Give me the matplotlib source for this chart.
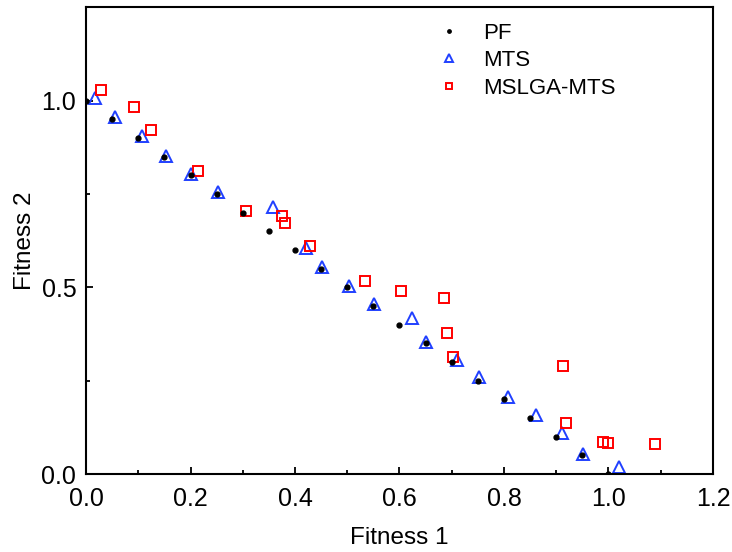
import matplotlib
matplotlib.use('Agg')
import matplotlib.pyplot as plt
from matplotlib.ticker import MultipleLocator

plt.rcParams['font.family'] = ['Liberation Sans', 'DejaVu Sans']

# Pareto front
pf_x = [0.0, 0.05, 0.1, 0.15, 0.2, 0.25, 0.3, 0.35, 0.4, 0.45, 0.5,
        0.55, 0.6, 0.65, 0.7, 0.75, 0.8, 0.85, 0.9, 0.95, 1.0]
pf_y = [1.0, 0.95, 0.9, 0.85, 0.8, 0.75, 0.7, 0.65, 0.6, 0.55, 0.5,
        0.45, 0.4, 0.35, 0.3, 0.25, 0.2, 0.15, 0.1, 0.05, 0.0]

# MTS
mts_x = [0.017, 0.056, 0.107, 0.153, 0.200, 0.253, 0.357, 0.421, 0.452, 0.503,
         0.552, 0.624, 0.650, 0.711, 0.753, 0.808, 0.862, 0.912, 0.951, 1.020]
mts_y = [1.008, 0.955, 0.906, 0.851, 0.802, 0.754, 0.715, 0.605, 0.554, 0.503,
         0.454, 0.417, 0.354, 0.305, 0.259, 0.205, 0.158, 0.109, 0.053, 0.020]

# MSLGA-MTS
ms_x = [0.029, 0.091, 0.124, 0.214, 0.306, 0.375, 0.381, 0.429, 0.534,
        0.603, 0.685, 0.690, 0.702, 0.913, 0.919, 0.989, 1.000, 1.089]
ms_y = [1.029, 0.982, 0.921, 0.810, 0.703, 0.692, 0.673, 0.610, 0.518,
        0.490, 0.472, 0.378, 0.314, 0.288, 0.136, 0.086, 0.084, 0.079]

fig = plt.figure(figsize=(7.32, 5.52), dpi=100)
ax = fig.add_axes([0.1175, 0.1413, 0.8565, 0.8457])

ax.plot(pf_x, pf_y, 'o', color='black', markersize=3.5, label='PF', zorder=3)
ax.plot(mts_x, mts_y, '^', markerfacecolor='none', markeredgecolor='#2040ff',
        markeredgewidth=1.4, markersize=9, label='MTS', zorder=2)
ax.plot(ms_x, ms_y, 's', markerfacecolor='none', markeredgecolor='#ff0000',
        markeredgewidth=1.4, markersize=6.5, label='MSLGA-MTS', zorder=2)

ax.set_xlim(0, 1.2)
ax.set_ylim(0, 1.25)
ax.xaxis.set_major_locator(MultipleLocator(0.2))
ax.xaxis.set_minor_locator(MultipleLocator(0.1))
ax.yaxis.set_major_locator(MultipleLocator(0.5))
ax.yaxis.set_minor_locator(MultipleLocator(0.25))
ax.tick_params(which='both', direction='in', labelsize=18, width=1.3)
ax.tick_params(which='major', length=5)
ax.tick_params(which='minor', length=3)
ax.tick_params(axis='x', pad=9)
ax.tick_params(axis='y', pad=7)

for s in ax.spines.values():
    s.set_linewidth(1.5)

ax.set_xlabel('Fitness 1', fontsize=17.5, labelpad=12)
ax.set_ylabel('Fitness 2', fontsize=17.5, labelpad=4)

ax.legend(loc='upper left', bbox_to_anchor=(0.561, 0.967), frameon=False,
          fontsize=16, handlelength=1.0, handletextpad=1.03, labelspacing=0.3,
          markerscale=0.7, borderaxespad=0, borderpad=0)

fig.savefig('out.png', dpi=100)
